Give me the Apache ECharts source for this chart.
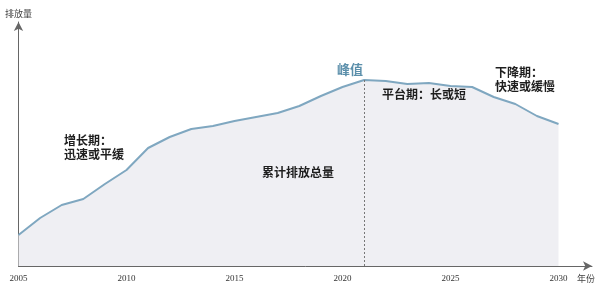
<!DOCTYPE html>
<html><head><meta charset="utf-8">
<script src="https://cdn.jsdelivr.net/npm/echarts@6/dist/echarts.min.js"></script>
<style>html,body{margin:0;padding:0;background:#fff;}#c{width:597px;height:299px;}</style>
</head><body><div id="c"></div>
<script>
const years = [2005,2006,2007,2008,2009,2010,2011,2012,2013,2014,2015,2016,2017,2018,2019,2020,2021,2022,2023,2024,2025,2026,2027,2028,2029,2030];
const emissions = [31,48,61,67,82,96,118,129,137,140,145,149,153,160,170,179,186,185,182,183,180,179,169,162,150,142];
const peakYear = 2021;
const tickLabels = ['2005','2010','2015','2020','2025','2030'];
const xName = '年份';
const yName = '排放量';
const notes = ['增长期：\n迅速或平缓','累计排放总量','峰值','平台期：长或短','下降期：\n快速或缓慢'];

const chart = echarts.init(document.getElementById('c'), null, {renderer:'canvas'});
const seriesData = years.map((y,i)=>[y, emissions[i]]);
const peakVal = emissions[years.indexOf(peakYear)];
const txt = (x,y,t,extra)=>({type:'text',left:x,top:y,z:100,zlevel:0,style:Object.assign({text:t,fill:'#1e1e1e',font:'bold 12px "Noto Sans CJK SC", sans-serif',lineHeight:14},extra||{})});
chart.setOption({
  animation:false,
  grid:{left:18.5,right:5,top:22,bottom:33},
  xAxis:{type:'value',min:2005,max:2031.55,interval:5,
    axisLine:{show:true,symbol:['none','arrow'],symbolSize:[7,9],lineStyle:{color:'#666',width:1}},
    axisTick:{show:false},splitLine:{show:false},
    axisLabel:{showMaxLabel:false,margin:8,color:'#333',fontFamily:'"Liberation Serif", serif',fontSize:9,
      formatter:v=>tickLabels.includes(String(v))?String(v):''}},
  yAxis:{type:'value',min:0,max:244,name:yName,nameLocation:'end',nameGap:4,
    nameTextStyle:{color:'#444',fontSize:9,fontFamily:'"Noto Sans CJK SC", sans-serif',align:'center',padding:[0,0,0,0]},
    axisLine:{show:true,symbol:['none','arrow'],symbolSize:[7,9],lineStyle:{color:'#666',width:1}},
    axisTick:{show:false},axisLabel:{show:false},splitLine:{show:false}},
  series:[{type:'line',data:seriesData,symbol:'none',smooth:false,z:2,
    lineStyle:{color:'#7fa7c0',width:2},
    areaStyle:{color:'#efeff3',opacity:1},
    markLine:{silent:true,symbol:'none',label:{show:false},
      lineStyle:{color:'#777',type:[2,2],width:1},
      data:[[{coord:[peakYear,peakVal]},{coord:[peakYear,0]}]]}}],
  graphic:{elements:[
    txt(64,133,notes[0]),
    txt(262,165,notes[1]),
    txt(337,62,notes[2],{fill:'#5b8fab',font:'bold 13px "Noto Sans CJK SC", sans-serif'}),
    txt(382,87,notes[3]),
    txt(495,65,notes[4]),
    txt(577,272,xName,{fill:'#444',font:'9px "Noto Sans CJK SC", sans-serif'})
  ]}
});
</script></body></html>
